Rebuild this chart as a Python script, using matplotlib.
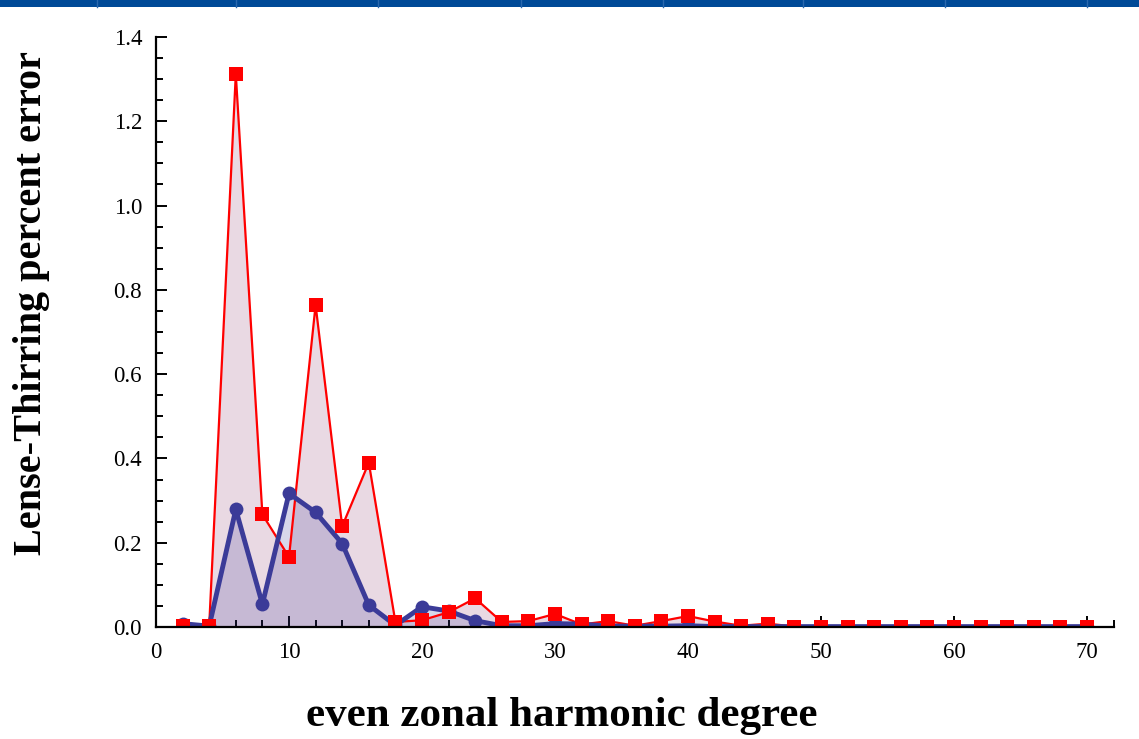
import matplotlib
matplotlib.use('Agg')
import matplotlib.pyplot as plt
from matplotlib.ticker import MultipleLocator
from matplotlib.patches import Rectangle
from matplotlib.lines import Line2D

# ---- data ----
degrees = list(range(2, 72, 2))
red_err = [0.003, 0.003, 1.312, 0.267, 0.166, 0.764, 0.239, 0.390, 0.012, 0.016,
           0.035, 0.068, 0.012, 0.014, 0.031, 0.006, 0.014, 0.003, 0.014, 0.026,
           0.013, 0.003, 0.008, 0.001, 0.001, 0.001, 0.001, 0.001, 0.001, 0.001,
           0.001, 0.001, 0.001, 0.001, 0.001]
blue_err = [0.008, 0.002, 0.279, 0.054, 0.317, 0.272, 0.198, 0.052, 0.004, 0.048,
            0.038, 0.015, 0.003, 0.003, 0.008, 0.007, 0.002, 0.002, 0.002, 0.003,
            0.001, 0.001, 0.001, 0.001, 0.001, 0.001, 0.001, 0.001, 0.001, 0.001,
            0.001, 0.001, 0.001, 0.001, 0.001]
x_ticks = [0, 10, 20, 30, 40, 50, 60, 70]
y_ticks = [0.0, 0.2, 0.4, 0.6, 0.8, 1.0, 1.2, 1.4]
xlabel = "even zonal harmonic degree"
ylabel = "Lense-Thirring percent error"

RED = '#ff0000'
BLUE = '#3b3b98'
RED_FILL = '#e9d9e3'
SERIF = ['Liberation Serif', 'DejaVu Serif']

fig = plt.figure(figsize=(11.39, 7.39), dpi=100)

# top blue band
band_h = 7 / 739
fig.patches.append(Rectangle((0, 1 - band_h), 1, band_h, transform=fig.transFigure,
                             facecolor='#004a97', edgecolor='none', zorder=0))
for px in [97, 236, 378, 521, 663, 803, 945, 1087]:
    fig.lines.append(Line2D([px / 1139, px / 1139], [1 - band_h, 1], transform=fig.transFigure,
                            color='#2a68ad', lw=1.0))

ax = fig.add_axes([156 / 1139, 112 / 739, 957.6 / 1139, 590 / 739])

ax.fill_between(degrees, red_err, 0, color=RED_FILL, lw=0, zorder=1)
ax.fill_between(degrees, blue_err, 0, color=BLUE, alpha=0.2, lw=0, zorder=2)
ax.plot(degrees, red_err, color=RED, lw=1.6, zorder=3)
ax.plot(degrees, blue_err, color=BLUE, lw=3.5, marker='o', markersize=10,
        markeredgewidth=0, zorder=4)
ax.plot(degrees, red_err, color=RED, lw=0, marker='s', markersize=10,
        markeredgewidth=0, zorder=5)

ax.set_xlim(0, 72)
ax.set_ylim(0, 1.4)
ax.set_xticks(x_ticks)
ax.set_yticks(y_ticks)
ax.xaxis.set_minor_locator(MultipleLocator(2))
ax.yaxis.set_minor_locator(MultipleLocator(0.05))
ax.set_xticklabels([str(v) for v in x_ticks], family=SERIF, fontsize=16.5)
ax.set_yticklabels([f"{v:.1f}" for v in y_ticks], family=SERIF, fontsize=16.5)
ax.tick_params(which='both', direction='in', width=1.4, color='black')
ax.tick_params(which='major', length=8)
ax.tick_params(which='minor', length=5)
ax.tick_params(axis='x', which='major', pad=11)
ax.tick_params(axis='y', which='major', pad=10)

for s in ['top', 'right']:
    ax.spines[s].set_visible(False)
for s in ['left', 'bottom']:
    ax.spines[s].set_linewidth(1.6)
    ax.spines[s].set_zorder(6)

fig.text(562 / 1139, 1 - 716 / 739, xlabel, family=SERIF, fontweight='bold',
         fontsize=31, ha='center', va='center')
fig.text(32 / 1139, 1 - 303 / 739, ylabel, family=SERIF, fontweight='bold',
         fontsize=29, ha='center', va='center', rotation=90)

fig.savefig('out.png', dpi=100)
